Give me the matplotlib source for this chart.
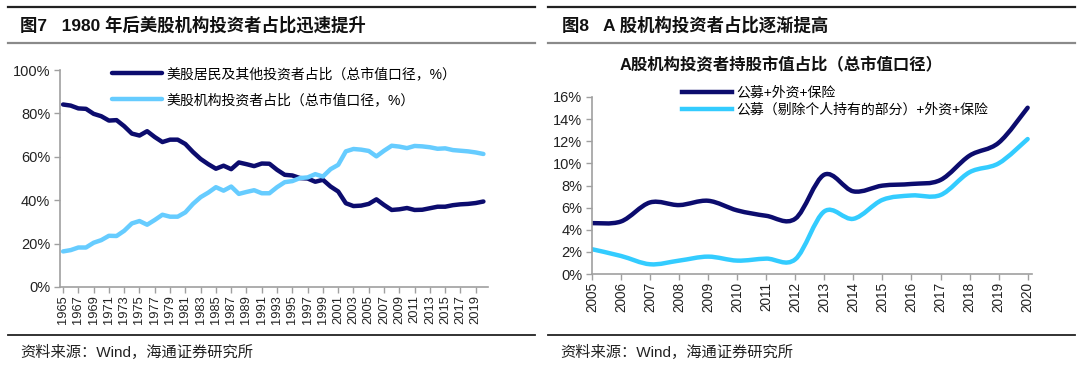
import matplotlib
matplotlib.use("Agg")
import matplotlib.pyplot as plt
from matplotlib.path import Path
from matplotlib.patches import PathPatch
from matplotlib.lines import Line2D
from matplotlib.ticker import PercentFormatter

plt.rcParams['font.family'] = ['Liberation Sans', 'Noto Sans CJK SC', 'DejaVu Sans']

# ---- data: figure 7 (US equity holders, % of market cap) ----
us_years = list(range(1965, 2021))
us_household = [84.1, 83.6, 82.3, 82.1, 79.8, 78.7, 76.7, 76.9, 74.1, 70.7,
                69.8, 71.8, 69.1, 66.8, 67.9, 67.9, 65.9, 62.2, 59.0, 56.6,
                54.5, 55.9, 54.3, 57.4, 56.6, 55.7, 56.9, 56.8, 54.0, 51.7,
                51.4, 50.2, 50.0, 48.5, 49.4, 46.3, 44.0, 38.6, 37.3, 37.5,
                38.3, 40.4, 37.8, 35.5, 35.8, 36.4, 35.5, 35.6, 36.3, 37.0,
                37.0, 37.7, 38.1, 38.3, 38.7, 39.4]
us_institution = [16.4, 17.0, 18.2, 18.2, 20.4, 21.6, 23.6, 23.5, 25.9, 29.3,
                  30.4, 28.7, 30.9, 33.3, 32.4, 32.4, 34.4, 38.3, 41.4, 43.5,
                  46.0, 44.4, 46.3, 42.9, 43.8, 44.6, 43.2, 43.2, 46.0, 48.3,
                  48.8, 50.2, 50.5, 52.0, 50.9, 54.3, 56.3, 62.5, 63.6, 63.3,
                  62.7, 60.2, 62.8, 65.1, 64.7, 64.0, 65.0, 64.8, 64.4, 63.7,
                  63.9, 63.1, 62.8, 62.5, 62.0, 61.3]

# ---- data: figure 8 (A-share institutional holdings, % of market cap) ----
cn_years = list(range(2005, 2021))
cn_total = [4.6, 4.75, 6.47, 6.23, 6.62, 5.75, 5.26, 5.0, 8.98, 7.47,
            7.99, 8.14, 8.5, 10.7, 11.86, 15.03]
cn_excl = [2.24, 1.63, 0.88, 1.21, 1.57, 1.21, 1.39, 1.33, 5.66, 4.99,
           6.7, 7.1, 7.14, 9.2, 10.0, 12.2]

NAVY = '#0c0c6e'
SKY = '#66ccff'
SKY2 = '#33ccff'
W, H = 1080, 365


def box(x0, y0, x1, y1):
    return [x0 / W, 1 - y1 / H, (x1 - x0) / W, (y1 - y0) / H]


def smooth_line(ax, xs, ys, **kw):
    # excel-style smoothed line (bezier through the data points)
    n = len(xs)
    verts = [(xs[0], ys[0])]
    codes = [Path.MOVETO]
    for i in range(n - 1):
        xp, yp = (xs[i - 1], ys[i - 1]) if i > 0 else (xs[i], ys[i])
        xn, yn = (xs[i + 2], ys[i + 2]) if i + 2 < n else (xs[i + 1], ys[i + 1])
        c1 = (xs[i] + (xs[i + 1] - xp) / 6, ys[i] + (ys[i + 1] - yp) / 6)
        c2 = (xs[i + 1] - (xn - xs[i]) / 6, ys[i + 1] - (yn - ys[i]) / 6)
        verts += [c1, c2, (xs[i + 1], ys[i + 1])]
        codes += [Path.CURVE4] * 3
    ax.add_patch(PathPatch(Path(verts, codes), fill=False, capstyle='round',
                           joinstyle='round', **kw))


def style_axes(ax):
    for s in ['top', 'right']:
        ax.spines[s].set_visible(False)
    for s in ['left', 'bottom']:
        ax.spines[s].set_color('#a0a0a0')
        ax.spines[s].set_linewidth(1.2)
    ax.tick_params(axis='both', color='#a0a0a0', length=4, width=1,
                   labelcolor='#222222')
    ax.tick_params(axis='y', labelsize=10.5, pad=3)
    ax.tick_params(axis='x', labelsize=9.3, rotation=90, pad=2)


fig = plt.figure(figsize=(W / 100, H / 100), dpi=100)

# frame lines and captions
for x0, x1 in [(8, 535), (548, 1075)]:
    fig.add_artist(Line2D([x0 / W, x1 / W], [1 - 7 / H] * 2, color='#222222', lw=1.6))
    fig.add_artist(Line2D([x0 / W, x1 / W], [1 - 43 / H] * 2, color='#8a8a8a', lw=1.6))
    fig.add_artist(Line2D([x0 / W, x1 / W], [1 - 335 / H] * 2, color='#222222', lw=1.3))

fig.text(20 / W, 1 - 25 / H, '图7   1980 年后美股机构投资者占比迅速提升',
         fontsize=12.5, fontweight='bold', va='center', color='#111111')
fig.text(562 / W, 1 - 25 / H, '图8   A 股机构投资者占比逐渐提高',
         fontsize=12.5, fontweight='bold', va='center', color='#111111')
fig.text(20 / W, 1 - 352 / H, '资料来源：Wind，海通证券研究所',
         fontsize=11, va='center', color='#222222')
fig.text(560 / W, 1 - 352 / H, '资料来源：Wind，海通证券研究所',
         fontsize=11, va='center', color='#222222')

# ---- left chart ----
ax1 = fig.add_axes(box(60, 70, 488, 287))
ax1.plot(us_years, us_household, color=NAVY, lw=3.2, solid_capstyle='round',
         label='美股居民及其他投资者占比（总市值口径，%）')
ax1.plot(us_years, us_institution, color=SKY, lw=3.2, solid_capstyle='round',
         label='美股机构投资者占比（总市值口径，%）')
ax1.set_xlim(1964.6, 2020.6)
ax1.set_ylim(0, 100)
ax1.set_yticks(range(0, 101, 20))
ax1.yaxis.set_major_formatter(PercentFormatter(decimals=0))
ax1.set_xticks(us_years[::2])
style_axes(ax1)
ax1.legend(loc='upper left', bbox_to_anchor=(112 / W, 1 - 67 / H),
           bbox_transform=fig.transFigure, frameon=False, fontsize=10,
           handlelength=3.6, handletextpad=0.3, labelspacing=0.85,
           borderaxespad=0, borderpad=0)

# ---- right chart ----
ax2 = fig.add_axes(box(592, 97, 1032, 274))
smooth_line(ax2, cn_years, cn_total, color=NAVY, lw=3.2)
smooth_line(ax2, cn_years, cn_excl, color=SKY2, lw=3.2)
ax2.set_xlim(2005, 2020.15)
ax2.set_ylim(0, 16)
ax2.set_yticks(range(0, 17, 2))
ax2.yaxis.set_major_formatter(PercentFormatter(decimals=0))
ax2.set_xticks(cn_years)
style_axes(ax2)
ax2.tick_params(axis='x', labelsize=9.8)
ax2.set_title('A股机构投资者持股市值占比（总市值口径）', fontsize=11.8,
              fontweight='bold', pad=0, x=0.43, y=1 + 27 / 177, color='#111111')
handles = [Line2D([], [], color=NAVY, lw=3.2), Line2D([], [], color=SKY2, lw=3.2)]
ax2.legend(handles, ['公募+外资+保险', '公募（剔除个人持有的部分）+外资+保险'],
           loc='upper left', bbox_to_anchor=(682 / W, 1 - 86 / H),
           bbox_transform=fig.transFigure, frameon=False, fontsize=10,
           handlelength=3.6, handletextpad=0.3, labelspacing=0.2,
           borderaxespad=0, borderpad=0)

fig.savefig('out.png', dpi=100)
